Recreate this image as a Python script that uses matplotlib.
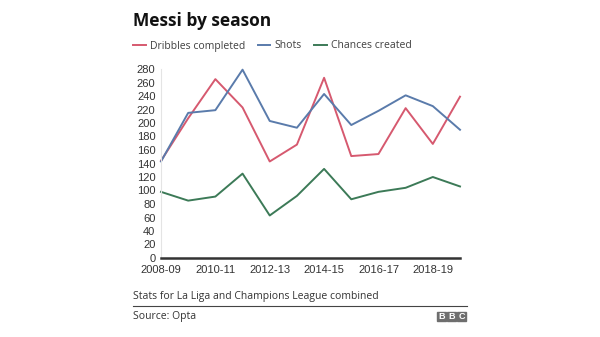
import matplotlib.pyplot as plt
from matplotlib.lines import Line2D
from matplotlib.patches import Rectangle

# Messi - La Liga + Champions League, per sezoni
sezone = ["2008-09", "2009-10", "2010-11", "2011-12", "2012-13", "2013-14",
          "2014-15", "2015-16", "2016-17", "2017-18", "2018-19", "2019-20"]
driblinzi = [144, 207, 265, 223, 143, 168, 267, 151, 154, 222, 169, 239]
udarci = [143, 215, 219, 279, 203, 193, 243, 197, 218, 241, 225, 190]
sanse = [98, 85, 91, 125, 63, 92, 132, 87, 98, 104, 120, 106]

boje = {"Dribbles completed": "#d6596f",
        "Shots": "#5a7bab",
        "Chances created": "#3c7a57"}

fig = plt.figure(figsize=(6, 3.37), dpi=100)
ax = fig.add_axes([161 / 600, 1 - 258 / 337, 299 / 600, 189 / 337])

x = range(len(sezone))
ax.plot(x, driblinzi, color=boje["Dribbles completed"], lw=1.4, clip_on=False)
ax.plot(x, udarci, color=boje["Shots"], lw=1.4, clip_on=False)
ax.plot(x, sanse, color=boje["Chances created"], lw=1.4, clip_on=False)

ax.set_xlim(0, len(sezone) - 1)
ax.set_ylim(0, 280)
ax.set_yticks(range(0, 281, 20))
ax.set_xticks(range(0, len(sezone), 2))
ax.set_xticklabels(sezone[::2])

for s in ["top", "right"]:
    ax.spines[s].set_visible(False)
ax.spines["left"].set_color("#e4e4e4")
ax.spines["left"].set_linewidth(0.8)
ax.spines["bottom"].set_color("#333333")
ax.spines["bottom"].set_linewidth(1.8)
ax.tick_params(axis="both", length=0, labelsize=8, labelcolor="#333333",
               labelfontfamily="Liberation Sans")
ax.tick_params(axis="y", pad=4)
ax.tick_params(axis="x", pad=5)

# naslov
fig.text(133 / 600, 1 - 21 / 337, "Messi by season", fontsize=12.5,
         fontweight="bold", family="Open Sans", color="#111111", va="center")

# legenda
ruke = [Line2D([], [], color=c, lw=1.4) for c in boje.values()]
fig.legend(ruke, list(boje.keys()), loc="center left",
           bbox_to_anchor=(124 / 600, 1 - 46 / 337), ncol=3, frameon=False,
           handlelength=1.2, handletextpad=0.4, columnspacing=1.2,
           prop={"family": "Open Sans", "size": 7.5}, labelcolor="#404040")

# podnozje
fig.text(133 / 600, 1 - 296 / 337, "Stats for La Liga and Champions League combined",
         fontsize=7.5, family="Open Sans", color="#333333", va="center")
fig.add_artist(Line2D([133 / 600, 467 / 600], [1 - 306 / 337, 1 - 306 / 337],
                      color="#444444", lw=0.8))
fig.text(133 / 600, 1 - 317 / 337, "Source: Opta", fontsize=7.5,
         family="Open Sans", color="#333333", va="center")

# BBC logo
for i, slovo in enumerate("BBC"):
    x0 = (437 + i * 10) / 600
    fig.add_artist(Rectangle((x0, 1 - 321 / 337), 9 / 600, 9 / 337,
                             color="#6e6e6e", transform=fig.transFigure))
    fig.text(x0 + 4.5 / 600, 1 - 316.5 / 337, slovo, fontsize=6.5,
             fontweight="bold", color="white", ha="center", va="center",
             family="Liberation Sans")

fig.savefig("out.png", dpi=100)
